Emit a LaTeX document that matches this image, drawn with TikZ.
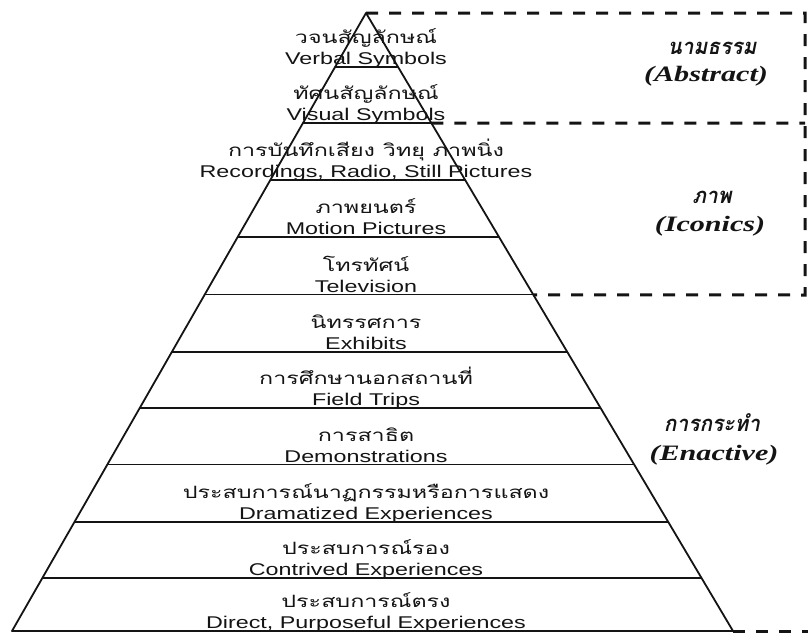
\documentclass[tikz,border=0pt]{standalone}
\usepackage{fontspec}
\setmainfont{Liberation Sans}[FakeStretch=1.37]
\newfontfamily\thaifont[Script=Thai,FakeStretch=1.37]{Loma}
\newfontfamily\thaibig[Script=Thai,FakeStretch=0.95]{Loma}
\newfontfamily\serifbi{Liberation Serif}[FakeStretch=1.37]
\usetikzlibrary{calc}
\definecolor{ink}{RGB}{20,20,20}

\begin{document}
\begin{tikzpicture}[ink,x=1pt,y=-1pt,
	eng/.style={font=\fontsize{17}{20}\selectfont, inner sep=0pt, anchor=base},
	thai/.style={font=\thaifont\fontsize{17}{20}\selectfont, inner sep=0pt, anchor=base},
	side/.style={font=\serifbi\bfseries\itshape\fontsize{22}{26}\selectfont, inner sep=0pt, anchor=base},
	sidethai/.style={font=\thaibig\bfseries\itshape\fontsize{22}{26}\selectfont, inner sep=0pt, anchor=base, text depth=0pt},
	edge/.style={line width=1.8pt, line join=round},
	sep/.style={line width=1.3pt},
	cut/.style={line width=3pt, dash pattern=on 12pt off 11pt}]
	\useasboundingbox (0,0) rectangle (808,635);
	\coordinate (A) at (366,13);
	\coordinate (L) at (12,631);
	\coordinate (R) at (733,631);
	\coordinate (L1) at ($(A)!0.0874!(L)$);
	\coordinate (R1) at ($(A)!0.0874!(R)$);
	\coordinate (L2) at ($(A)!0.178!(L)$);
	\coordinate (R2) at ($(A)!0.178!(R)$);
	\coordinate (L3) at ($(A)!0.270!(L)$);
	\coordinate (R3) at ($(A)!0.270!(R)$);
	\coordinate (L4) at ($(A)!0.3625!(L)$);
	\coordinate (R4) at ($(A)!0.3625!(R)$);
	\coordinate (L5) at ($(A)!0.456!(L)$);
	\coordinate (R5) at ($(A)!0.456!(R)$);
	\coordinate (L6) at ($(A)!0.5485!(L)$);
	\coordinate (R6) at ($(A)!0.5485!(R)$);
	\coordinate (L7) at ($(A)!0.639!(L)$);
	\coordinate (R7) at ($(A)!0.639!(R)$);
	\coordinate (L8) at ($(A)!0.731!(L)$);
	\coordinate (R8) at ($(A)!0.731!(R)$);
	\coordinate (L9) at ($(A)!0.8236!(L)$);
	\coordinate (R9) at ($(A)!0.8236!(R)$);
	\coordinate (L10) at ($(A)!0.914!(L)$);
	\coordinate (R10) at ($(A)!0.914!(R)$);
	\coordinate (D0) at (805,13);
	\coordinate (D2) at (805,123);
	\coordinate (D5) at (805,295);
	\coordinate (D11) at (808,631);

	\draw[edge] (L) -- (A) -- (R) -- cycle;
	\draw[sep] (L1) -- (R1);
	\draw[sep] (L2) -- (R2);
	\draw[sep] (L3) -- (R3);
	\draw[sep] (L4) -- (R4);
	\draw[sep] (L5) -- (R5);
	\draw[sep] (L6) -- (R6);
	\draw[sep] (L7) -- (R7);
	\draw[sep] (L8) -- (R8);
	\draw[sep] (L9) -- (R9);
	\draw[sep] (L10) -- (R10);
	\draw[cut] (A) -- (D0) -- (D5) -- (R5);
	\draw[cut] (R2) -- (D2);
	\draw[cut] (R) -- (D11);

	\node[thai] (T1) at (366,43) {วจนสัญลักษณ์};
	\node[eng] (E1) at (366,64) {Verbal Symbols};
	\node[thai] (T2) at (366,99) {ทัศนสัญลักษณ์};
	\node[eng] (E2) at (366,120) {Visual Symbols};
	\node[thai] (T3) at (366,156) {การบันทึกเสียง วิทยุ ภาพนิ่ง};
	\node[eng] (E3) at (366,177) {Recordings, Radio, Still Pictures};
	\node[thai] (T4) at (366,213) {ภาพยนตร์};
	\node[eng] (E4) at (366,234) {Motion Pictures};
	\node[thai] (T5) at (366,271) {โทรทัศน์};
	\node[eng] (E5) at (366,292) {Television};
	\node[thai] (T6) at (366,328) {นิทรรศการ};
	\node[eng] (E6) at (366,349) {Exhibits};
	\node[thai] (T7) at (366,384) {การศึกษานอกสถานที่};
	\node[eng] (E7) at (366,405) {Field Trips};
	\node[thai] (T8) at (366,441) {การสาธิต};
	\node[eng] (E8) at (366,462) {Demonstrations};
	\node[thai] (T9) at (366,498) {ประสบการณ์นาฏกรรมหรือการแสดง};
	\node[eng] (E9) at (366,519) {Dramatized Experiences};
	\node[thai] (T10) at (366,554) {ประสบการณ์รอง};
	\node[eng] (E10) at (366,575) {Contrived Experiences};
	\node[thai] (T11) at (366,607) {ประสบการณ์ตรง};
	\node[eng] (E11) at (366,628) {Direct, Purposeful Experiences};

	\node[sidethai] (S1) at (712,54) {นามธรรม};
	\node[side] (G1) at (706,81) {(Abstract)};
	\node[sidethai] (S2) at (712,203) {ภาพ};
	\node[side] (G2) at (710,231) {(Iconics)};
	\node[sidethai] (S3) at (712,431) {การกระทำ};
	\node[side] (G3) at (714,460) {(Enactive)};
\end{tikzpicture}
\end{document}
